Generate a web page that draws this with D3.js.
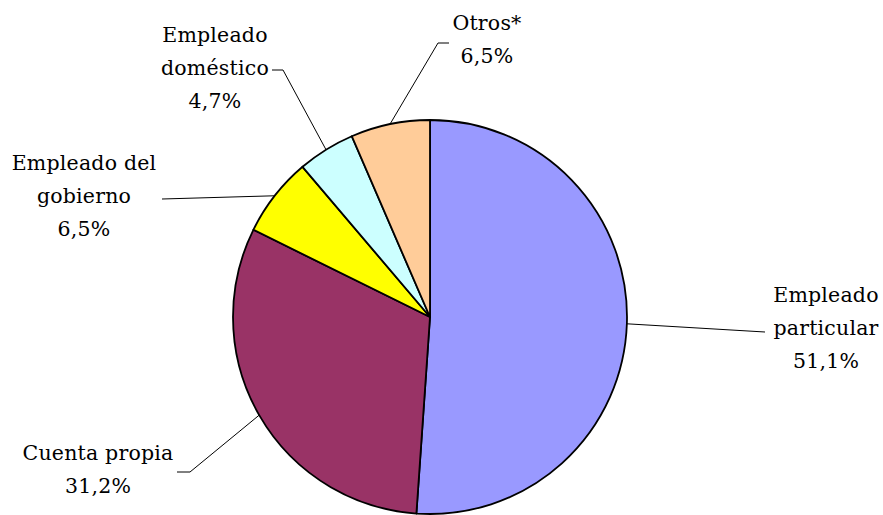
<!DOCTYPE html>
<html>
<head>
<meta charset="utf-8">
<script src="https://cdn.jsdelivr.net/npm/d3@7"></script>
<style>
  html, body { margin: 0; padding: 0; background: #fff; }
  svg { display: block; }
  text { font-family: "DejaVu Serif", serif; font-size: 20.5px; fill: #000; letter-spacing: 0.2px; }
</style>
</head>
<body>
<svg id="chart" width="883" height="515"></svg>
<script>
// ---- data ----
const categories = ["Empleado particular", "Cuenta propia", "Empleado del gobierno", "Empleado doméstico", "Otros*"];
const values = [51.1, 31.2, 6.5, 4.7, 6.5];
const labelLines = [
  ["Empleado", "particular"],
  ["Cuenta propia"],
  ["Empleado del", "gobierno"],
  ["Empleado", "doméstico"],
  ["Otros*"]
];
const colors = ["#9999FF", "#993366", "#FFFF00", "#CCFFFF", "#FFCC99"];

// ---- layout (positions of labels and leader elbows) ----
const cx = 430, cy = 317, r = 197;
const labelLayout = [
  { x: 826, y: 302, elbow: [765, 332], end: [765, 332] },
  { x: 98,  y: 460, elbow: [190, 472], end: [177, 472] },
  { x: 84,  y: 170, elbow: [162, 199], end: [162, 199] },
  { x: 215, y: 42,  elbow: [283, 70],  end: [272, 70] },
  { x: 487, y: 30,  elbow: [438, 43],  end: [449, 43] }
];
const lineH = 33;

const fmt = v => d3.format(".1f")(v).replace(".", ",") + "%";

const svg = d3.select("#chart");
const g = svg.append("g").attr("transform", `translate(${cx},${cy})`);

const pie = d3.pie().sort(null).value(d => d)(values);
const arc = d3.arc().innerRadius(0).outerRadius(r);

g.selectAll("path.slice")
  .data(pie)
  .join("path")
  .attr("class", "slice")
  .attr("d", arc)
  .attr("fill", (d, i) => colors[i])
  .attr("stroke", "#000")
  .attr("stroke-width", 1.8)
  .attr("stroke-linejoin", "round");

// leader lines
pie.forEach((d, i) => {
  const a = (d.startAngle + d.endAngle) / 2;
  const sx = cx + r * Math.sin(a), sy = cy - r * Math.cos(a);
  const L = labelLayout[i];
  svg.append("polyline")
    .attr("points", [[sx, sy], L.elbow, L.end].map(p => p.join(",")).join(" "))
    .attr("fill", "none")
    .attr("stroke", "#000")
    .attr("stroke-width", 1);
});

// labels
labelLayout.forEach((L, i) => {
  const lines = labelLines[i].concat([fmt(values[i])]);
  const t = svg.append("text").attr("text-anchor", "middle");
  lines.forEach((s, k) => {
    t.append("tspan").attr("x", L.x).attr("y", L.y + k * lineH).text(s);
  });
});
</script>
</body>
</html>
